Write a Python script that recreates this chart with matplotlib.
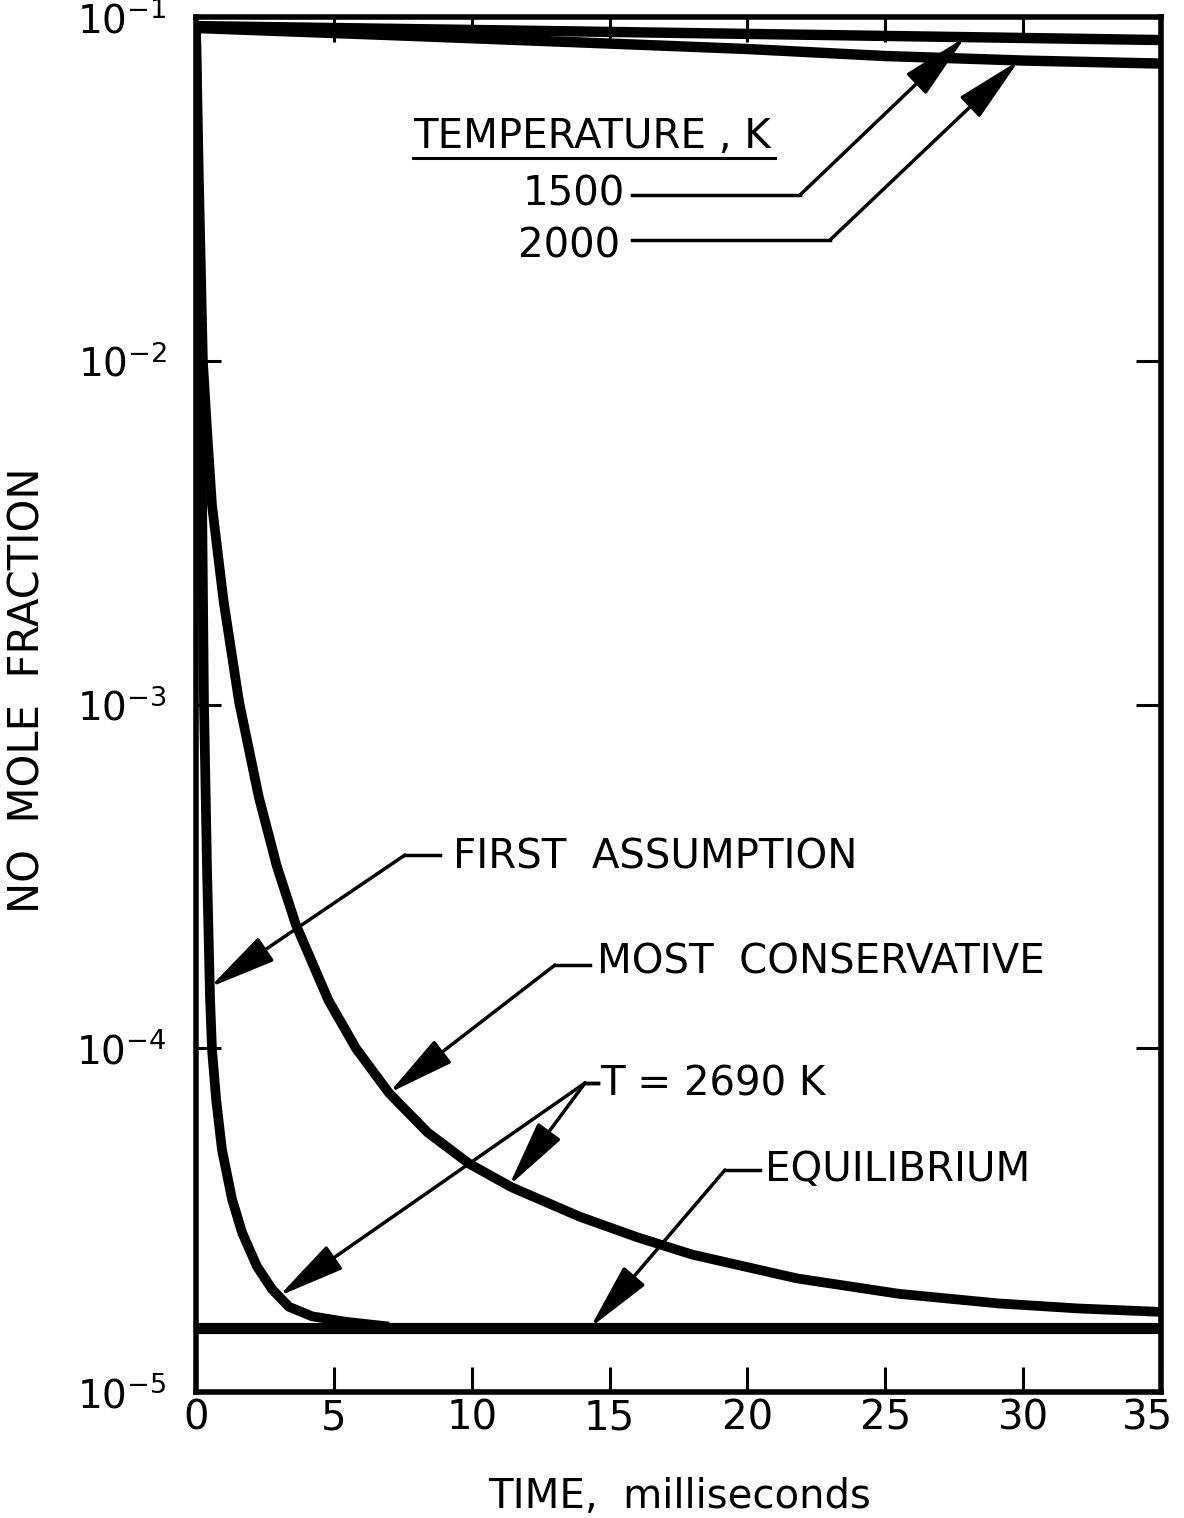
import numpy as np
import matplotlib
matplotlib.use("Agg")
import matplotlib.pyplot as plt
from matplotlib.lines import Line2D
from matplotlib.transforms import ScaledTranslation

plt.rcParams['font.family'] = ['DejaVu Sans']
plt.rcParams['mathtext.fontset'] = 'dejavusans'

# data (time in ms, NO mole fraction)
t_1500 = [0, 10, 20, 30, 35]
no_1500 = [0.0941, 0.0917, 0.0893, 0.0869, 0.0857]

t_2000 = [0, 7.5, 15, 20, 25, 30, 35]
no_2000 = [0.0929, 0.0883, 0.0837, 0.0807, 0.0770, 0.0747, 0.0732]

# T = 2690 K, first assumption (fast decay)
t_first = [0, 0.07, 0.145, 0.22, 0.29, 0.40, 0.51, 0.58, 0.73, 0.94, 1.31,
           1.67, 2.21, 2.76, 3.37, 4.21, 5.44, 7.0]
no_first = [0.0941, 2.97e-2, 1.0e-2, 3.98e-3, 9.98e-4, 3.32e-4, 1.39e-4,
            9.93e-5, 7.10e-5, 5.08e-5, 3.63e-5, 2.91e-5, 2.32e-5, 1.99e-5,
            1.77e-5, 1.66e-5, 1.60e-5, 1.55e-5]

# T = 2690 K, most conservative (slow decay)
t_cons = [0, 0.1, 0.25, 0.4, 0.58, 1.0, 1.56, 2.28, 2.93, 3.62, 4.8, 5.8,
          7.0, 8.4, 9.9, 11.45, 13.9, 16.0, 18.0, 21.8, 25.5, 29.1, 32.0,
          35.0]
no_cons = [0.0941, 0.035, 1.0e-2, 6.3e-3, 3.80e-3, 2.0e-3, 1.02e-3, 5.37e-4,
           3.39e-4, 2.29e-4, 1.38e-4, 1.0e-4, 7.41e-5, 5.69e-5, 4.62e-5,
           3.94e-5, 3.24e-5, 2.82e-5, 2.51e-5, 2.14e-5, 1.93e-5, 1.81e-5,
           1.75e-5, 1.71e-5]

t_eq = [0, 35]
no_eq = [1.54e-5, 1.54e-5]

xticks = [0, 5, 10, 15, 20, 25, 30, 35]
yticks = [1e-5, 1e-4, 1e-3, 1e-2, 1e-1]
ytick_labels = ['$10^{-5}$', '$10^{-4}$', '$10^{-3}$', '$10^{-2}$', '$10^{-1}$']

W, H = 1184, 1518
fig = plt.figure(figsize=(W / 100, H / 100), dpi=100)
ax = fig.add_axes([196 / W, 1 - 1392 / H, (1161 - 196) / W, (1392 - 17) / H])


def px(x, y):
    # image pixel (top-left origin) -> figure fraction
    return (x / W, 1 - y / H)


def on_curve(t, ts, vs):
    return (t, 10 ** np.interp(t, ts, np.log10(vs)))


ax.plot(t_1500, no_1500, color='black', lw=7.5, solid_capstyle='butt')
ax.plot(t_2000, no_2000, color='black', lw=7.5, solid_capstyle='butt')
ax.plot(t_first, no_first, color='black', lw=7, solid_capstyle='butt',
        solid_joinstyle='round')
ax.plot(t_cons, no_cons, color='black', lw=7, solid_capstyle='butt',
        solid_joinstyle='round')
ax.plot(t_eq, no_eq, color='black', lw=8, solid_capstyle='butt')

ax.set_yscale('log')
ax.set_xlim(0, 35)
ax.set_ylim(1e-5, 1e-1)
ax.set_xticks(xticks)
ax.set_xticklabels([str(v) for v in xticks])
ax.set_yticks(yticks)
ax.set_yticklabels(ytick_labels)
ax.minorticks_off()
ax.tick_params(axis='both', direction='in', length=18, width=2.2,
               top=True, right=True, colors='black')
ax.tick_params(axis='x', pad=5, labelsize=29)
ax.tick_params(axis='y', pad=21, labelsize=28)
for s in ax.spines.values():
    s.set_linewidth(4)

# last x label sits a bit inside the frame, as in the original
last = ax.get_xticklabels()[-1]
last.set_transform(last.get_transform() + ScaledTranslation(-10 / 72, 0, fig.dpi_scale_trans))

fig.text(*px(28, 690), 'NO  MOLE  FRACTION', rotation=90, fontsize=30,
         ha='center', va='center')
fig.text(*px(680, 1497), 'TIME,  milliseconds', fontsize=29,
         ha='center', va='center')

fs = 29
fig.text(*px(413, 137), 'TEMPERATURE , K', fontsize=fs, ha='left', va='center')
fig.add_artist(Line2D([413 / W, 775 / W], [1 - 158 / H] * 2, color='black', lw=2.2))
fig.text(*px(625, 195), '1500', fontsize=fs, ha='right', va='center')
fig.text(*px(620, 246), '2000', fontsize=fs, ha='right', va='center')
fig.text(*px(453, 858), 'FIRST  ASSUMPTION', fontsize=fs, ha='left', va='center')
fig.text(*px(597, 963), 'MOST  CONSERVATIVE', fontsize=fs, ha='left', va='center')
fig.text(*px(600, 1085), 'T = 2690 K', fontsize=fs, ha='left', va='center')
fig.text(*px(765, 1170), 'EQUILIBRIUM', fontsize=fs, ha='left', va='center')

# leader lines: (start of horizontal, elbow, target on curve)
leaders = [
    ((632, 195), (800, 195), on_curve(27.9, t_1500, no_1500)),
    ((632, 240), (830, 240), on_curve(29.85, t_2000, no_2000)),
    ((440, 855), (405, 855), on_curve(0.5, t_first, no_first)),
    ((590, 965), (555, 965), on_curve(7.0, t_cons, no_cons)),
    ((598, 1083), (585, 1083), on_curve(3.0, t_first, no_first)),
    ((598, 1083), (585, 1083), on_curve(11.35, t_cons, no_cons)),
    ((760, 1170), (725, 1170), on_curve(14.3, t_eq, no_eq)),
]
for start, elbow, target in leaders:
    s = px(*start)
    e = px(*elbow)
    fig.add_artist(Line2D([s[0], e[0]], [s[1], e[1]], color='black', lw=2.5))
    ax.annotate('', xy=target, xycoords='data', xytext=e,
                textcoords='figure fraction',
                arrowprops=dict(arrowstyle='-|>,head_length=1.9,head_width=0.4',
                                color='black', lw=2.5, mutation_scale=22,
                                shrinkA=0, shrinkB=0))

fig.savefig('out.png', dpi=100, facecolor='white')
